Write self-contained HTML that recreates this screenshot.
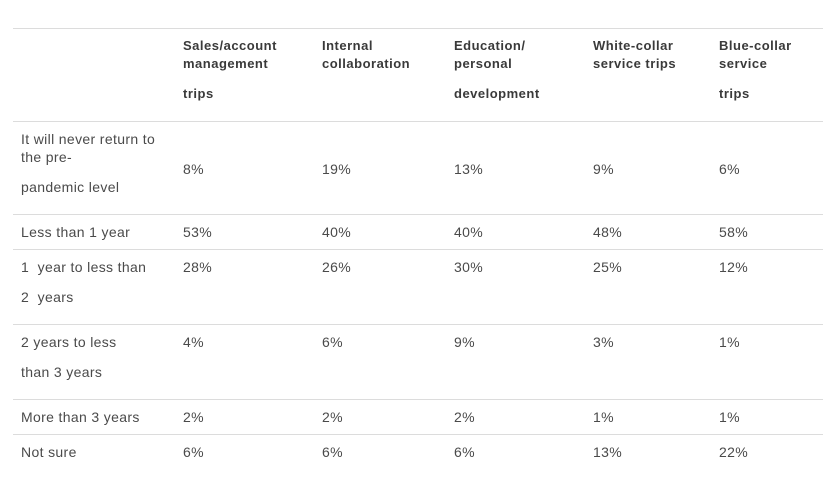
<!DOCTYPE html>
<html><head><meta charset="utf-8"><style>
html,body{margin:0;padding:0;background:#fff;width:836px;height:501px;overflow:hidden;position:relative;font-family:"Liberation Sans",Arial,sans-serif;}
.l{position:absolute;left:13px;width:810px;height:1px;background:#dcdcdc;}
.t{position:absolute;font-size:14px;letter-spacing:0.35px;color:#4a4a4a;line-height:16px;white-space:nowrap;transform:translateY(-7px);}
.h{font-weight:bold;color:#3a3a3a;font-size:13px;letter-spacing:0.5px;}
</style></head><body>
<div class="l" style="top:28px"></div>
<div class="l" style="top:121px"></div>
<div class="l" style="top:214px"></div>
<div class="l" style="top:249px"></div>
<div class="l" style="top:324px"></div>
<div class="l" style="top:399px"></div>
<div class="l" style="top:434px"></div>

<div class="t h" style="left:183px;top:45px">Sales/account</div>
<div class="t h" style="left:183px;top:63px">management</div>
<div class="t h" style="left:183px;top:93px">trips</div>
<div class="t h" style="left:322px;top:45px">Internal</div>
<div class="t h" style="left:322px;top:63px">collaboration</div>
<div class="t h" style="left:454px;top:45px">Education/</div>
<div class="t h" style="left:454px;top:63px">personal</div>
<div class="t h" style="left:454px;top:93px">development</div>
<div class="t h" style="left:593px;top:45px">White-collar</div>
<div class="t h" style="left:593px;top:63px">service trips</div>
<div class="t h" style="left:719px;top:45px">Blue-collar</div>
<div class="t h" style="left:719px;top:63px">service</div>
<div class="t h" style="left:719px;top:93px">trips</div>

<div class="t" style="left:21px;top:138px">It will never return to</div>
<div class="t" style="left:21px;top:156px">the pre-</div>
<div class="t" style="left:21px;top:186px">pandemic level</div>
<div class="t" style="left:183px;top:168px">8%</div>
<div class="t" style="left:322px;top:168px">19%</div>
<div class="t" style="left:454px;top:168px">13%</div>
<div class="t" style="left:593px;top:168px">9%</div>
<div class="t" style="left:719px;top:168px">6%</div>

<div class="t" style="left:21px;top:231px">Less than 1 year</div>
<div class="t" style="left:183px;top:231px">53%</div>
<div class="t" style="left:322px;top:231px">40%</div>
<div class="t" style="left:454px;top:231px">40%</div>
<div class="t" style="left:593px;top:231px">48%</div>
<div class="t" style="left:719px;top:231px">58%</div>

<div class="t" style="left:21px;top:266px">1&nbsp; year to less than</div>
<div class="t" style="left:21px;top:296px">2&nbsp; years</div>
<div class="t" style="left:183px;top:266px">28%</div>
<div class="t" style="left:322px;top:266px">26%</div>
<div class="t" style="left:454px;top:266px">30%</div>
<div class="t" style="left:593px;top:266px">25%</div>
<div class="t" style="left:719px;top:266px">12%</div>

<div class="t" style="left:21px;top:341px">2 years to less</div>
<div class="t" style="left:21px;top:371px">than 3 years</div>
<div class="t" style="left:183px;top:341px">4%</div>
<div class="t" style="left:322px;top:341px">6%</div>
<div class="t" style="left:454px;top:341px">9%</div>
<div class="t" style="left:593px;top:341px">3%</div>
<div class="t" style="left:719px;top:341px">1%</div>

<div class="t" style="left:21px;top:416px">More than 3 years</div>
<div class="t" style="left:183px;top:416px">2%</div>
<div class="t" style="left:322px;top:416px">2%</div>
<div class="t" style="left:454px;top:416px">2%</div>
<div class="t" style="left:593px;top:416px">1%</div>
<div class="t" style="left:719px;top:416px">1%</div>

<div class="t" style="left:21px;top:451px">Not sure</div>
<div class="t" style="left:183px;top:451px">6%</div>
<div class="t" style="left:322px;top:451px">6%</div>
<div class="t" style="left:454px;top:451px">6%</div>
<div class="t" style="left:593px;top:451px">13%</div>
<div class="t" style="left:719px;top:451px">22%</div>
</body></html>
